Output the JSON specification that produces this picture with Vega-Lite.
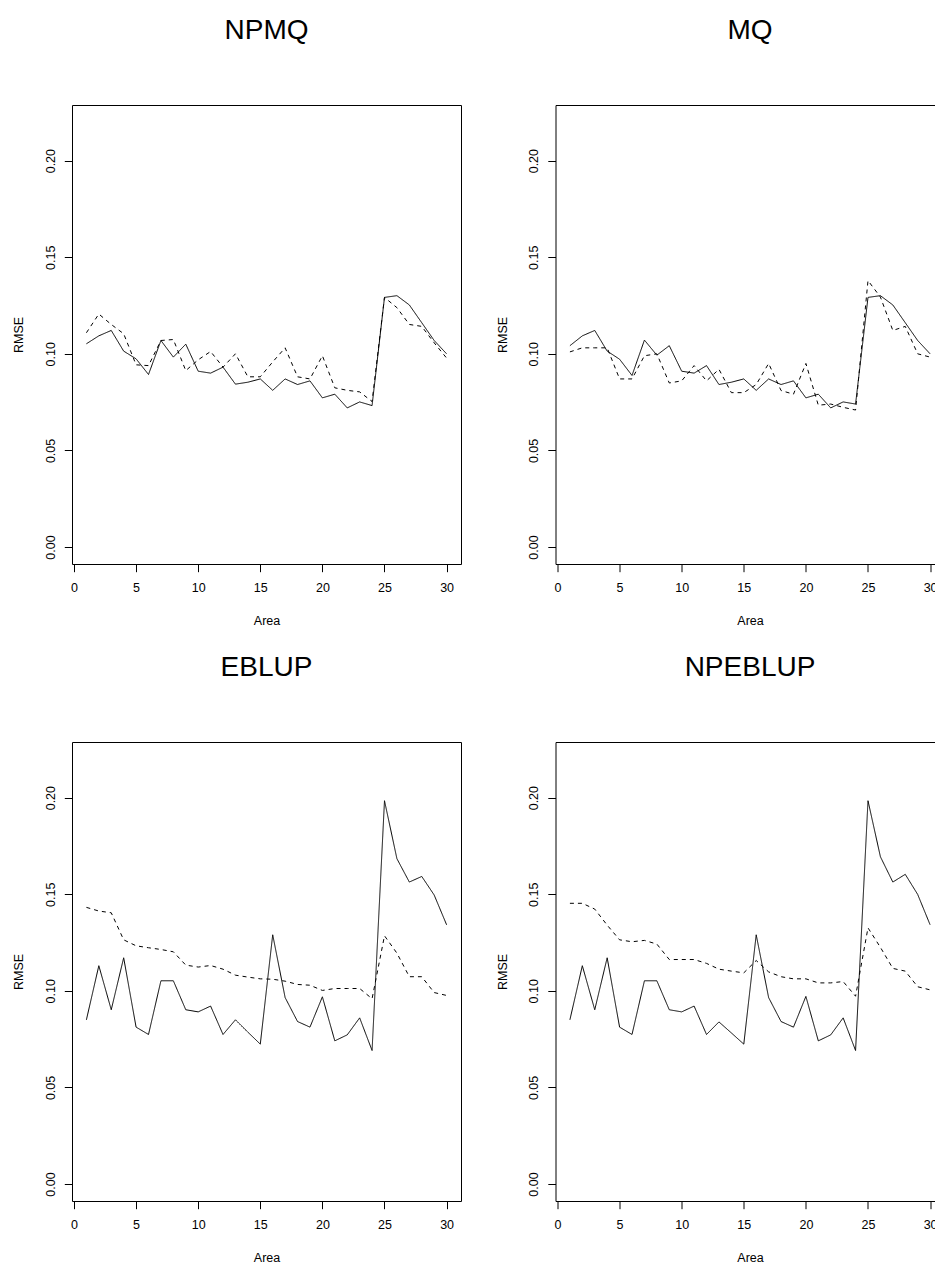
{
"$schema":"https://vega.github.io/schema/vega-lite/v6.json",
"padding":{"left":12,"top":16,"right":0,"bottom":0},
"config":{"font":"Liberation Sans","view":{"stroke":"black","strokeWidth":1},
"axis":{"domain":false,"grid":false,"tickColor":"black","tickSize":7.7,"labelColor":"black","titleColor":"black","labelFontSize":12.5,"titleFontSize":12.5,"titleFontWeight":"normal","labelFont":"Liberation Sans","titleFont":"Liberation Sans"}},
"data":{"values":[
{"p":"NPMQ","t":"Empirical","a":1,"v":0.1052},{"p":"NPMQ","t":"Empirical","a":2,"v":0.1093},{"p":"NPMQ","t":"Empirical","a":3,"v":0.1121},{"p":"NPMQ","t":"Empirical","a":4,"v":0.1014},{"p":"NPMQ","t":"Empirical","a":5,"v":0.0974},{"p":"NPMQ","t":"Empirical","a":6,"v":0.0893},{"p":"NPMQ","t":"Empirical","a":7,"v":0.1069},{"p":"NPMQ","t":"Empirical","a":8,"v":0.0983},{"p":"NPMQ","t":"Empirical","a":9,"v":0.1050},{"p":"NPMQ","t":"Empirical","a":10,"v":0.0910},{"p":"NPMQ","t":"Empirical","a":11,"v":0.0900},{"p":"NPMQ","t":"Empirical","a":12,"v":0.0931},{"p":"NPMQ","t":"Empirical","a":13,"v":0.0843},{"p":"NPMQ","t":"Empirical","a":14,"v":0.0853},{"p":"NPMQ","t":"Empirical","a":15,"v":0.0870},{"p":"NPMQ","t":"Empirical","a":16,"v":0.0811},{"p":"NPMQ","t":"Empirical","a":17,"v":0.0870},{"p":"NPMQ","t":"Empirical","a":18,"v":0.0841},{"p":"NPMQ","t":"Empirical","a":19,"v":0.0860},{"p":"NPMQ","t":"Empirical","a":20,"v":0.0772},{"p":"NPMQ","t":"Empirical","a":21,"v":0.0791},{"p":"NPMQ","t":"Empirical","a":22,"v":0.0720},{"p":"NPMQ","t":"Empirical","a":23,"v":0.0751},{"p":"NPMQ","t":"Empirical","a":24,"v":0.0732},{"p":"NPMQ","t":"Empirical","a":25,"v":0.1292},{"p":"NPMQ","t":"Empirical","a":26,"v":0.1301},{"p":"NPMQ","t":"Empirical","a":27,"v":0.1253},{"p":"NPMQ","t":"Empirical","a":28,"v":0.1161},{"p":"NPMQ","t":"Empirical","a":29,"v":0.1069},{"p":"NPMQ","t":"Empirical","a":30,"v":0.1000},
{"p":"NPMQ","t":"Estimated","a":1,"v":0.1109},{"p":"NPMQ","t":"Estimated","a":2,"v":0.1206},{"p":"NPMQ","t":"Estimated","a":3,"v":0.1152},{"p":"NPMQ","t":"Estimated","a":4,"v":0.1104},{"p":"NPMQ","t":"Estimated","a":5,"v":0.0943},{"p":"NPMQ","t":"Estimated","a":6,"v":0.0939},{"p":"NPMQ","t":"Estimated","a":7,"v":0.1069},{"p":"NPMQ","t":"Estimated","a":8,"v":0.1074},{"p":"NPMQ","t":"Estimated","a":9,"v":0.0913},{"p":"NPMQ","t":"Estimated","a":10,"v":0.0969},{"p":"NPMQ","t":"Estimated","a":11,"v":0.1012},{"p":"NPMQ","t":"Estimated","a":12,"v":0.0931},{"p":"NPMQ","t":"Estimated","a":13,"v":0.1000},{"p":"NPMQ","t":"Estimated","a":14,"v":0.0881},{"p":"NPMQ","t":"Estimated","a":15,"v":0.0881},{"p":"NPMQ","t":"Estimated","a":16,"v":0.0958},{"p":"NPMQ","t":"Estimated","a":17,"v":0.1031},{"p":"NPMQ","t":"Estimated","a":18,"v":0.0881},{"p":"NPMQ","t":"Estimated","a":19,"v":0.0870},{"p":"NPMQ","t":"Estimated","a":20,"v":0.0990},{"p":"NPMQ","t":"Estimated","a":21,"v":0.0824},{"p":"NPMQ","t":"Estimated","a":22,"v":0.0811},{"p":"NPMQ","t":"Estimated","a":23,"v":0.0803},{"p":"NPMQ","t":"Estimated","a":24,"v":0.0753},{"p":"NPMQ","t":"Estimated","a":25,"v":0.1292},{"p":"NPMQ","t":"Estimated","a":26,"v":0.1239},{"p":"NPMQ","t":"Estimated","a":27,"v":0.1152},{"p":"NPMQ","t":"Estimated","a":28,"v":0.1142},{"p":"NPMQ","t":"Estimated","a":29,"v":0.1057},{"p":"NPMQ","t":"Estimated","a":30,"v":0.0978},
{"p":"MQ","t":"Empirical","a":1,"v":0.1042},{"p":"MQ","t":"Empirical","a":2,"v":0.1093},{"p":"MQ","t":"Empirical","a":3,"v":0.1121},{"p":"MQ","t":"Empirical","a":4,"v":0.1014},{"p":"MQ","t":"Empirical","a":5,"v":0.0972},{"p":"MQ","t":"Empirical","a":6,"v":0.0888},{"p":"MQ","t":"Empirical","a":7,"v":0.1071},{"p":"MQ","t":"Empirical","a":8,"v":0.0993},{"p":"MQ","t":"Empirical","a":9,"v":0.1042},{"p":"MQ","t":"Empirical","a":10,"v":0.0910},{"p":"MQ","t":"Empirical","a":11,"v":0.0900},{"p":"MQ","t":"Empirical","a":12,"v":0.0939},{"p":"MQ","t":"Empirical","a":13,"v":0.0841},{"p":"MQ","t":"Empirical","a":14,"v":0.0853},{"p":"MQ","t":"Empirical","a":15,"v":0.0870},{"p":"MQ","t":"Empirical","a":16,"v":0.0811},{"p":"MQ","t":"Empirical","a":17,"v":0.0870},{"p":"MQ","t":"Empirical","a":18,"v":0.0841},{"p":"MQ","t":"Empirical","a":19,"v":0.0860},{"p":"MQ","t":"Empirical","a":20,"v":0.0772},{"p":"MQ","t":"Empirical","a":21,"v":0.0791},{"p":"MQ","t":"Empirical","a":22,"v":0.0720},{"p":"MQ","t":"Empirical","a":23,"v":0.0751},{"p":"MQ","t":"Empirical","a":24,"v":0.0740},{"p":"MQ","t":"Empirical","a":25,"v":0.1292},{"p":"MQ","t":"Empirical","a":26,"v":0.1301},{"p":"MQ","t":"Empirical","a":27,"v":0.1253},{"p":"MQ","t":"Empirical","a":28,"v":0.1161},{"p":"MQ","t":"Empirical","a":29,"v":0.1069},{"p":"MQ","t":"Empirical","a":30,"v":0.1000},
{"p":"MQ","t":"Estimated","a":1,"v":0.1010},{"p":"MQ","t":"Estimated","a":2,"v":0.1031},{"p":"MQ","t":"Estimated","a":3,"v":0.1031},{"p":"MQ","t":"Estimated","a":4,"v":0.1031},{"p":"MQ","t":"Estimated","a":5,"v":0.0870},{"p":"MQ","t":"Estimated","a":6,"v":0.0870},{"p":"MQ","t":"Estimated","a":7,"v":0.0990},{"p":"MQ","t":"Estimated","a":8,"v":0.1000},{"p":"MQ","t":"Estimated","a":9,"v":0.0849},{"p":"MQ","t":"Estimated","a":10,"v":0.0860},{"p":"MQ","t":"Estimated","a":11,"v":0.0939},{"p":"MQ","t":"Estimated","a":12,"v":0.0860},{"p":"MQ","t":"Estimated","a":13,"v":0.0920},{"p":"MQ","t":"Estimated","a":14,"v":0.0799},{"p":"MQ","t":"Estimated","a":15,"v":0.0799},{"p":"MQ","t":"Estimated","a":16,"v":0.0841},{"p":"MQ","t":"Estimated","a":17,"v":0.0950},{"p":"MQ","t":"Estimated","a":18,"v":0.0810},{"p":"MQ","t":"Estimated","a":19,"v":0.0791},{"p":"MQ","t":"Estimated","a":20,"v":0.0950},{"p":"MQ","t":"Estimated","a":21,"v":0.0734},{"p":"MQ","t":"Estimated","a":22,"v":0.0740},{"p":"MQ","t":"Estimated","a":23,"v":0.0723},{"p":"MQ","t":"Estimated","a":24,"v":0.0709},{"p":"MQ","t":"Estimated","a":25,"v":0.1379},{"p":"MQ","t":"Estimated","a":26,"v":0.1294},{"p":"MQ","t":"Estimated","a":27,"v":0.1121},{"p":"MQ","t":"Estimated","a":28,"v":0.1142},{"p":"MQ","t":"Estimated","a":29,"v":0.1000},{"p":"MQ","t":"Estimated","a":30,"v":0.0983},
{"p":"EBLUP","t":"Empirical","a":1,"v":0.0850},{"p":"EBLUP","t":"Empirical","a":2,"v":0.1130},{"p":"EBLUP","t":"Empirical","a":3,"v":0.0902},{"p":"EBLUP","t":"Empirical","a":4,"v":0.1171},{"p":"EBLUP","t":"Empirical","a":5,"v":0.0812},{"p":"EBLUP","t":"Empirical","a":6,"v":0.0774},{"p":"EBLUP","t":"Empirical","a":7,"v":0.1052},{"p":"EBLUP","t":"Empirical","a":8,"v":0.1052},{"p":"EBLUP","t":"Empirical","a":9,"v":0.0902},{"p":"EBLUP","t":"Empirical","a":10,"v":0.0891},{"p":"EBLUP","t":"Empirical","a":11,"v":0.0921},{"p":"EBLUP","t":"Empirical","a":12,"v":0.0774},{"p":"EBLUP","t":"Empirical","a":13,"v":0.0850},{"p":"EBLUP","t":"Empirical","a":14,"v":0.0786},{"p":"EBLUP","t":"Empirical","a":15,"v":0.0724},{"p":"EBLUP","t":"Empirical","a":16,"v":0.1290},{"p":"EBLUP","t":"Empirical","a":17,"v":0.0965},{"p":"EBLUP","t":"Empirical","a":18,"v":0.0841},{"p":"EBLUP","t":"Empirical","a":19,"v":0.0812},{"p":"EBLUP","t":"Empirical","a":20,"v":0.0969},{"p":"EBLUP","t":"Empirical","a":21,"v":0.0741},{"p":"EBLUP","t":"Empirical","a":22,"v":0.0772},{"p":"EBLUP","t":"Empirical","a":23,"v":0.0860},{"p":"EBLUP","t":"Empirical","a":24,"v":0.0691},{"p":"EBLUP","t":"Empirical","a":25,"v":0.1984},{"p":"EBLUP","t":"Empirical","a":26,"v":0.1684},{"p":"EBLUP","t":"Empirical","a":27,"v":0.1563},{"p":"EBLUP","t":"Empirical","a":28,"v":0.1592},{"p":"EBLUP","t":"Empirical","a":29,"v":0.1496},{"p":"EBLUP","t":"Empirical","a":30,"v":0.1342},
{"p":"EBLUP","t":"Estimated","a":1,"v":0.1432},{"p":"EBLUP","t":"Estimated","a":2,"v":0.1413},{"p":"EBLUP","t":"Estimated","a":3,"v":0.1404},{"p":"EBLUP","t":"Estimated","a":4,"v":0.1264},{"p":"EBLUP","t":"Estimated","a":5,"v":0.1233},{"p":"EBLUP","t":"Estimated","a":6,"v":0.1223},{"p":"EBLUP","t":"Estimated","a":7,"v":0.1214},{"p":"EBLUP","t":"Estimated","a":8,"v":0.1202},{"p":"EBLUP","t":"Estimated","a":9,"v":0.1133},{"p":"EBLUP","t":"Estimated","a":10,"v":0.1123},{"p":"EBLUP","t":"Estimated","a":11,"v":0.1131},{"p":"EBLUP","t":"Estimated","a":12,"v":0.1112},{"p":"EBLUP","t":"Estimated","a":13,"v":0.1081},{"p":"EBLUP","t":"Estimated","a":14,"v":0.1071},{"p":"EBLUP","t":"Estimated","a":15,"v":0.1062},{"p":"EBLUP","t":"Estimated","a":16,"v":0.1060},{"p":"EBLUP","t":"Estimated","a":17,"v":0.1050},{"p":"EBLUP","t":"Estimated","a":18,"v":0.1033},{"p":"EBLUP","t":"Estimated","a":19,"v":0.1029},{"p":"EBLUP","t":"Estimated","a":20,"v":0.1002},{"p":"EBLUP","t":"Estimated","a":21,"v":0.1012},{"p":"EBLUP","t":"Estimated","a":22,"v":0.1012},{"p":"EBLUP","t":"Estimated","a":23,"v":0.1012},{"p":"EBLUP","t":"Estimated","a":24,"v":0.0959},{"p":"EBLUP","t":"Estimated","a":25,"v":0.1285},{"p":"EBLUP","t":"Estimated","a":26,"v":0.1195},{"p":"EBLUP","t":"Estimated","a":27,"v":0.1073},{"p":"EBLUP","t":"Estimated","a":28,"v":0.1073},{"p":"EBLUP","t":"Estimated","a":29,"v":0.0991},{"p":"EBLUP","t":"Estimated","a":30,"v":0.0976},
{"p":"NPEBLUP","t":"Empirical","a":1,"v":0.0850},{"p":"NPEBLUP","t":"Empirical","a":2,"v":0.1130},{"p":"NPEBLUP","t":"Empirical","a":3,"v":0.0902},{"p":"NPEBLUP","t":"Empirical","a":4,"v":0.1171},{"p":"NPEBLUP","t":"Empirical","a":5,"v":0.0812},{"p":"NPEBLUP","t":"Empirical","a":6,"v":0.0774},{"p":"NPEBLUP","t":"Empirical","a":7,"v":0.1052},{"p":"NPEBLUP","t":"Empirical","a":8,"v":0.1052},{"p":"NPEBLUP","t":"Empirical","a":9,"v":0.0902},{"p":"NPEBLUP","t":"Empirical","a":10,"v":0.0891},{"p":"NPEBLUP","t":"Empirical","a":11,"v":0.0921},{"p":"NPEBLUP","t":"Empirical","a":12,"v":0.0774},{"p":"NPEBLUP","t":"Empirical","a":13,"v":0.0839},{"p":"NPEBLUP","t":"Empirical","a":14,"v":0.0782},{"p":"NPEBLUP","t":"Empirical","a":15,"v":0.0724},{"p":"NPEBLUP","t":"Empirical","a":16,"v":0.1290},{"p":"NPEBLUP","t":"Empirical","a":17,"v":0.0965},{"p":"NPEBLUP","t":"Empirical","a":18,"v":0.0841},{"p":"NPEBLUP","t":"Empirical","a":19,"v":0.0812},{"p":"NPEBLUP","t":"Empirical","a":20,"v":0.0971},{"p":"NPEBLUP","t":"Empirical","a":21,"v":0.0741},{"p":"NPEBLUP","t":"Empirical","a":22,"v":0.0772},{"p":"NPEBLUP","t":"Empirical","a":23,"v":0.0860},{"p":"NPEBLUP","t":"Empirical","a":24,"v":0.0691},{"p":"NPEBLUP","t":"Empirical","a":25,"v":0.1984},{"p":"NPEBLUP","t":"Empirical","a":26,"v":0.1694},{"p":"NPEBLUP","t":"Empirical","a":27,"v":0.1563},{"p":"NPEBLUP","t":"Empirical","a":28,"v":0.1603},{"p":"NPEBLUP","t":"Empirical","a":29,"v":0.1499},{"p":"NPEBLUP","t":"Empirical","a":30,"v":0.1342},
{"p":"NPEBLUP","t":"Estimated","a":1,"v":0.1453},{"p":"NPEBLUP","t":"Estimated","a":2,"v":0.1453},{"p":"NPEBLUP","t":"Estimated","a":3,"v":0.1423},{"p":"NPEBLUP","t":"Estimated","a":4,"v":0.1340},{"p":"NPEBLUP","t":"Estimated","a":5,"v":0.1264},{"p":"NPEBLUP","t":"Estimated","a":6,"v":0.1254},{"p":"NPEBLUP","t":"Estimated","a":7,"v":0.1261},{"p":"NPEBLUP","t":"Estimated","a":8,"v":0.1242},{"p":"NPEBLUP","t":"Estimated","a":9,"v":0.1162},{"p":"NPEBLUP","t":"Estimated","a":10,"v":0.1162},{"p":"NPEBLUP","t":"Estimated","a":11,"v":0.1162},{"p":"NPEBLUP","t":"Estimated","a":12,"v":0.1142},{"p":"NPEBLUP","t":"Estimated","a":13,"v":0.1112},{"p":"NPEBLUP","t":"Estimated","a":14,"v":0.1102},{"p":"NPEBLUP","t":"Estimated","a":15,"v":0.1093},{"p":"NPEBLUP","t":"Estimated","a":16,"v":0.1157},{"p":"NPEBLUP","t":"Estimated","a":17,"v":0.1098},{"p":"NPEBLUP","t":"Estimated","a":18,"v":0.1073},{"p":"NPEBLUP","t":"Estimated","a":19,"v":0.1062},{"p":"NPEBLUP","t":"Estimated","a":20,"v":0.1062},{"p":"NPEBLUP","t":"Estimated","a":21,"v":0.1041},{"p":"NPEBLUP","t":"Estimated","a":22,"v":0.1041},{"p":"NPEBLUP","t":"Estimated","a":23,"v":0.1048},{"p":"NPEBLUP","t":"Estimated","a":24,"v":0.0972},{"p":"NPEBLUP","t":"Estimated","a":25,"v":0.1326},{"p":"NPEBLUP","t":"Estimated","a":26,"v":0.1225},{"p":"NPEBLUP","t":"Estimated","a":27,"v":0.1116},{"p":"NPEBLUP","t":"Estimated","a":28,"v":0.1102},{"p":"NPEBLUP","t":"Estimated","a":29,"v":0.1021},{"p":"NPEBLUP","t":"Estimated","a":30,"v":0.1005}
]},
"facet":{"field":"p","type":"nominal","sort":["NPMQ","MQ","EBLUP","NPEBLUP"],
"header":{"title":null,"labelFontSize":28,"labelFont":"Liberation Sans","labelColor":"black","labelPadding":60}},
"columns":2,
"spacing":{"column":33.5,"row":26},
"resolve":{"axis":{"x":"independent","y":"independent"}},
"spec":{
"width":389,"height":459,
"mark":{"type":"line","strokeWidth":1,"color":"black","clip":true},
"encoding":{
"x":{"field":"a","type":"quantitative","title":"Area","scale":{"domain":[-0.16,31.16],"nice":false,"zero":false},
"axis":{"values":[0,5,10,15,20,25,30],"labelBaseline":"alphabetic","labelPadding":20,"labelFlush":false,"labelOverlap":false,"titleBaseline":"alphabetic","titleY":60}},
"y":{"field":"v","type":"quantitative","title":"RMSE","scale":{"domain":[-0.0088,0.2288],"nice":false,"zero":false},
"axis":{"values":[0,0.05,0.1,0.15,0.2],"format":".2f","labelAngle":270,"labelAlign":"center","labelBaseline":"alphabetic","labelPadding":10,"labelFlush":false,"labelOverlap":false,"titleBaseline":"alphabetic","titleX":-49.3}},
"strokeDash":{"field":"t","type":"nominal","scale":{"domain":["Empirical","Estimated"],"range":[[1,0],[4,4]]},"legend":null}
}}
}
